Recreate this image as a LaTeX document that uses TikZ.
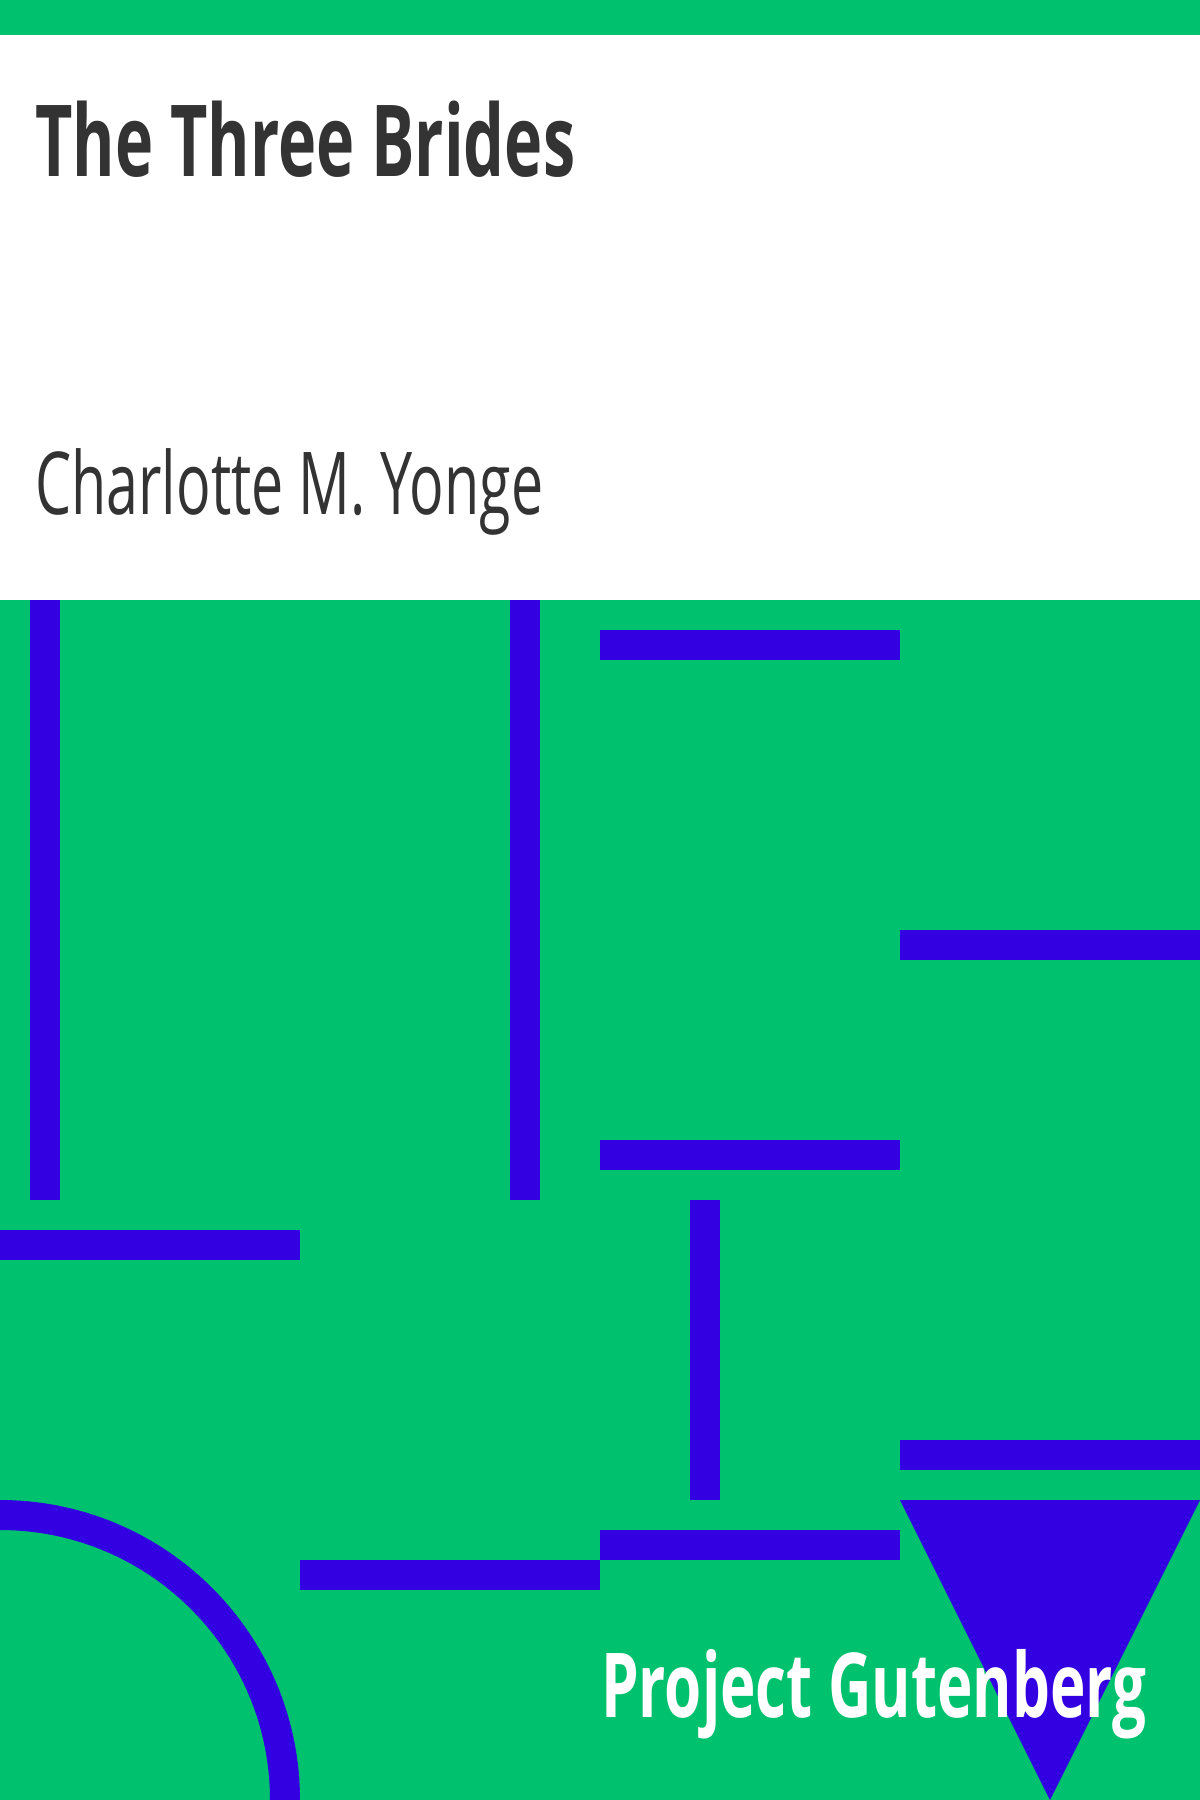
\documentclass[tikz,border=0pt]{standalone}
\usepackage{fontspec}
\setmainfont{Open Sans}
\usepackage{graphicx}
\definecolor{pggreen}{RGB}{0,193,110}
\definecolor{pgblue}{RGB}{51,0,226}
\definecolor{pgtext}{RGB}{51,51,51}
\tikzset{
  bar/.style={fill=pgblue},
  label/.style={inner sep=0pt, anchor=base west}
}
\begin{document}
\begin{tikzpicture}[x=1pt,y=-1pt]
\useasboundingbox (0,0) rectangle (1200,1800);
\fill [white] (0,0) rectangle (1200,1800);
\fill [pggreen] (0,0) rectangle (1200,35);
\fill [pggreen] (0,600) rectangle (1200,1800);
% text
\node [label, text=pgtext] (title) at (35,176)
  {\resizebox{540pt}{\height}{\fontsize{99.4}{110}\selectfont\bfseries The Three Brides}};
\node [label, text=pgtext] (author) at (35,514)
  {\resizebox{508pt}{\height}{\fontsize{86.8}{96}\selectfont Charlotte M. Yonge}};
% bars
\fill [bar] (30,600) rectangle (60,1200);
\fill [bar] (510,600) rectangle (540,1200);
\fill [bar] (600,630) rectangle (900,660);
\fill [bar] (900,930) rectangle (1200,960);
\fill [bar] (600,1140) rectangle (900,1170);
\fill [bar] (0,1230) rectangle (300,1260);
\fill [bar] (690,1200) rectangle (720,1500);
\fill [bar] (900,1440) rectangle (1200,1470);
\fill [bar] (600,1530) rectangle (900,1560);
\fill [bar] (300,1560) rectangle (600,1590);
\fill [bar] (900,1500) -- (1200,1500) -- (1050,1800) -- cycle;
\begin{scope}
\clip (0,0) rectangle (1200,1800);
\draw [pgblue, line width=30pt] (285,1800) arc [start angle=0, end angle=-90, radius=285];
\end{scope}
\node [label, text=white] (pg) at (601,1717)
  {\resizebox{545pt}{\height}{\fontsize{89.6}{100}\selectfont\bfseries Project Gutenberg}};
\end{tikzpicture}
\end{document}
